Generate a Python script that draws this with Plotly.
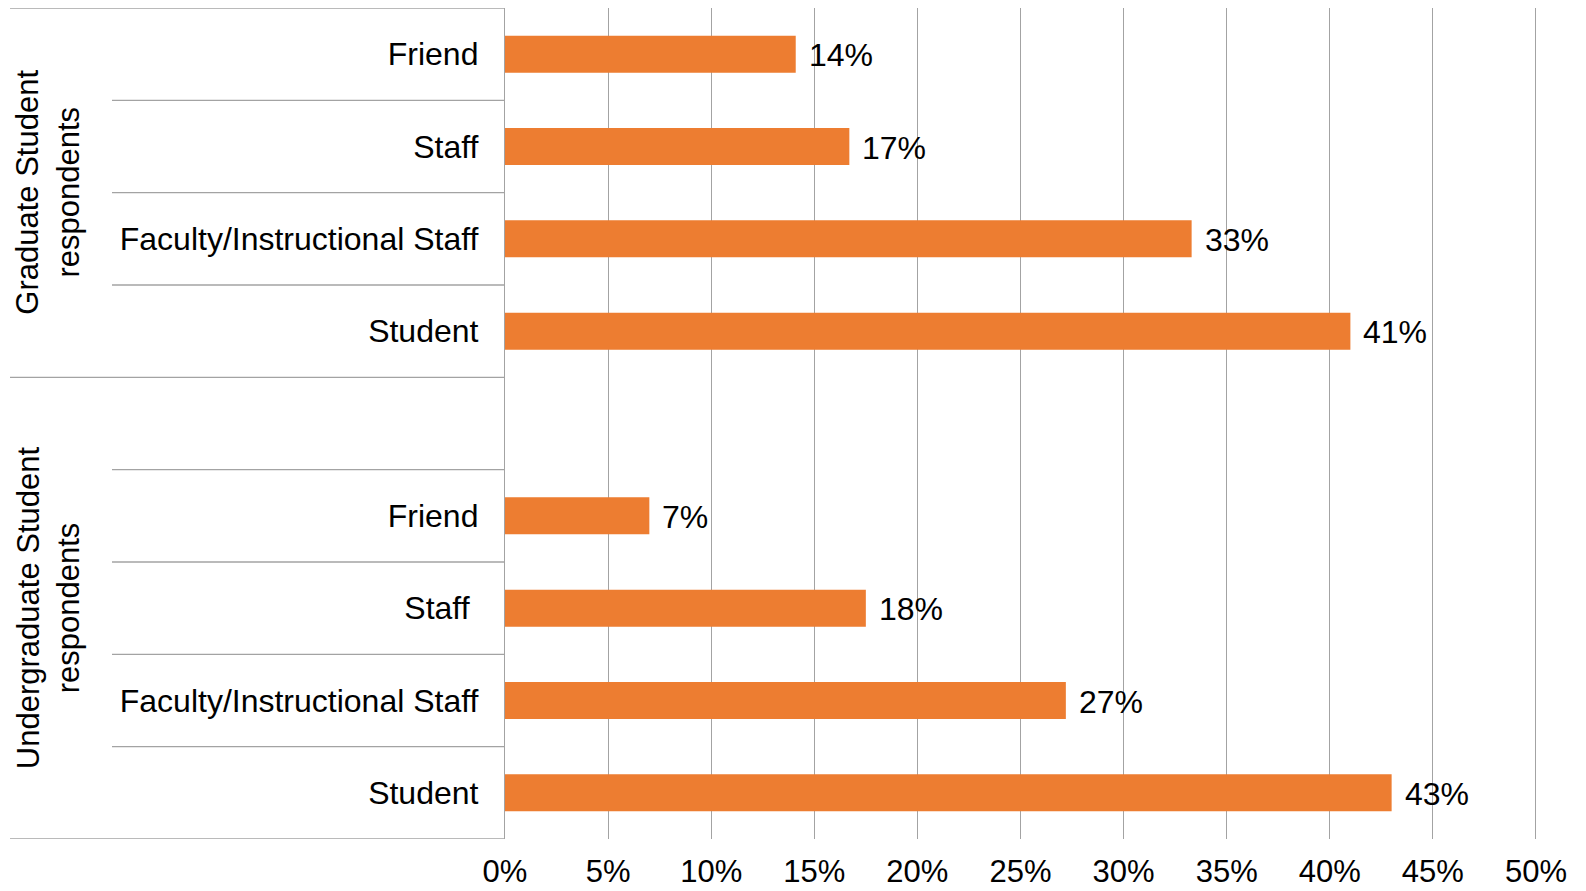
import plotly.graph_objects as go

# ---- data -------------------------------------------------------------
groups = ["Graduate Student<br>respondents", "Undergraduate Student<br>respondents"]
grad_labels = ["Friend", "Staff", "Faculty/Instructional Staff", "Student"]
grad_values = [0.141, 0.167, 0.333, 0.410]
ugrad_labels = ["Friend", "Staff\u00a0", "Faculty/Instructional Staff", "Student"]
ugrad_values = [0.070, 0.175, 0.272, 0.430]
x_ticks = [0, 0.05, 0.10, 0.15, 0.20, 0.25, 0.30, 0.35, 0.40, 0.45, 0.50]

# ---- layout constants ---------------------------------------------------
W, H = 1586, 891
L, R, T, B = 505, 49, 8, 52
plot_w = W - L - R
FONT = "Liberation Sans, Arial, sans-serif"
ORANGE = "#ED7D31"
LINE = "#a3a3a3"


def px_to_paper(px):
    return (px - L) / plot_w


# row layout: graduate block (4 rows), an empty row, then undergraduate block
grad_rows = list(range(len(grad_labels)))
blank_row = len(grad_labels)
ugrad_rows = [blank_row + 1 + i for i in range(len(ugrad_labels))]
n_rows = len(grad_labels) + 1 + len(ugrad_labels)

rows = grad_rows + ugrad_rows
labels = grad_labels + ugrad_labels
values = grad_values + ugrad_values

fig = go.Figure()
fig.add_trace(go.Bar(
    x=values, y=rows, orientation="h",
    marker=dict(color=ORANGE, line=dict(width=0)),
    width=0.4, hoverinfo="skip", showlegend=False,
))

# value labels to the right of each bar
for v, r in zip(values, rows):
    fig.add_annotation(
        x=v, y=r, xref="x", yref="y", text=f"{v:.0%}",
        showarrow=False, xanchor="left", yanchor="middle",
        xshift=11, yshift=-1,
        font=dict(family=FONT, size=32, color="#000000"),
    )

# separators in the category header area
shapes = []
outer_bounds = [-0.5, blank_row - 0.5, n_rows - 0.5]
inner_bounds = [r + 0.5 for r in grad_rows[:-1]] + [blank_row + 0.5] + [r + 0.5 for r in ugrad_rows[:-1]]
for yb in outer_bounds:
    shapes.append(dict(type="line", xref="paper", yref="y",
                       x0=px_to_paper(10), x1=0, y0=yb, y1=yb,
                       line=dict(color=LINE, width=1.3)))
for yb in inner_bounds:
    shapes.append(dict(type="line", xref="paper", yref="y",
                       x0=px_to_paper(112), x1=0, y0=yb, y1=yb,
                       line=dict(color=LINE, width=1.3)))
fig.update_layout(shapes=shapes)

# group titles, rotated
group_centers = [(grad_rows[0] + grad_rows[-1]) / 2, (blank_row + ugrad_rows[-1]) / 2]
for g, c in zip(groups, group_centers):
    fig.add_annotation(
        x=px_to_paper(48), y=c, xref="paper", yref="y", text=g,
        textangle=-90, showarrow=False, xanchor="center", yanchor="middle",
        font=dict(family=FONT, size=31, color="#000000"),
    )

fig.update_layout(
    width=W, height=H,
    margin=dict(l=L, r=R, t=T, b=B, pad=0, autoexpand=False),
    paper_bgcolor="white", plot_bgcolor="white",
    font=dict(family=FONT, color="#000000"),
    bargap=0.6,
    xaxis=dict(
        range=[0, 0.5005], tickvals=x_ticks, tickformat=".0%",
        showgrid=True, gridcolor=LINE, gridwidth=1.3,
        zeroline=False, showline=False, automargin=False,
        ticks="outside", ticklen=5, tickcolor="rgba(0,0,0,0)",
        tickfont=dict(family=FONT, size=31, color="#000000"),
        fixedrange=True,
    ),
    yaxis=dict(
        range=[n_rows - 0.5, -0.5], tickvals=rows, ticktext=labels,
        showgrid=False, zeroline=False, automargin=False,
        showline=True, linecolor=LINE, linewidth=1.3,
        ticks="outside", ticklen=19, tickcolor="rgba(0,0,0,0)",
        tickfont=dict(family=FONT, size=32, color="#000000"),
        fixedrange=True,
    ),
)

fig.write_html("out.html")
